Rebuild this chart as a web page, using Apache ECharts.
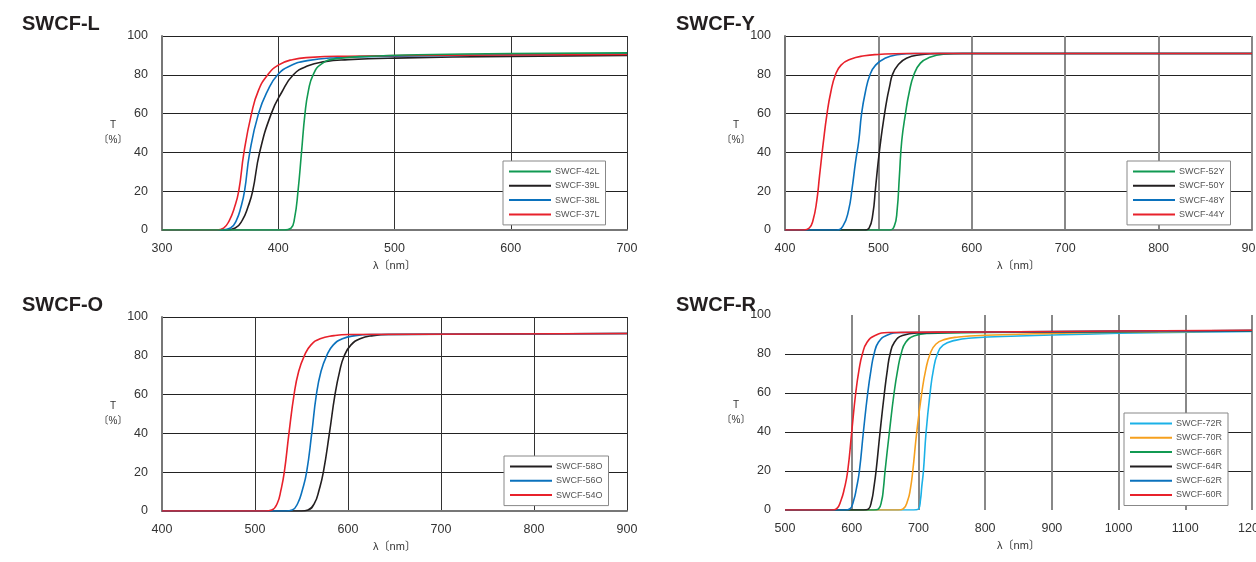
<!DOCTYPE html>
<html>
<head>
<meta charset="utf-8">
<script src="https://cdn.jsdelivr.net/npm/echarts@6/dist/echarts.min.js"></script>
<style>
  html, body { margin: 0; padding: 0; background: #fff; }
  #main { width: 1256px; height: 562px; }
</style>
</head>
<body>
<div id="main"></div>
<script type="text/javascript">
    // 各フィルターの分光透過率 (λ nm, T %)
    var l42x = [300, 405, 411, 414, 417, 420, 423, 426, 430, 437, 450, 480, 520, 600, 700];
    var l42y = [0, 0, 1, 6, 20, 40, 60, 72, 80, 85.5, 88.3, 89.6, 90.3, 91, 91.3];
    var l39x = [300, 355, 363, 369, 374, 378, 384, 394, 403, 413, 425, 440, 460, 500, 600, 700];
    var l39y = [0, 0, 1, 5, 12, 20, 40, 60, 71, 80, 84.5, 86.8, 87.8, 88.6, 89.5, 90];
    var l38x = [300, 352, 359, 364, 368, 371, 375.5, 383, 391, 399.5, 410, 425, 450, 500, 600, 700];
    var l38y = [0, 0, 1, 5, 12, 20, 40, 60, 72, 80, 84.5, 87.3, 88.8, 89.6, 90.3, 90.8];
    var l37x = [300, 347, 353, 358, 362, 366, 370.5, 377, 383, 391, 400, 412, 428, 460, 550, 700];
    var l37y = [0, 0, 1, 5, 11, 20, 40, 60, 72, 80, 85, 87.8, 89, 89.6, 90.1, 90.5];

    var y52x = [400, 512, 517, 520, 522.5, 525, 529, 533, 538, 545, 555, 570, 590, 900];
    var y52y = [0, 0, 2, 10, 28, 46, 60, 71, 80, 86, 89, 90.6, 91, 91];
    var y50x = [400, 485, 490, 494, 497, 500, 503, 506, 509, 512, 515, 521, 530, 545, 565, 900];
    var y50y = [0, 0, 1, 8, 22, 36, 48, 58, 67, 74, 80, 85, 88.5, 90.3, 91, 91];
    var y48x = [400, 455, 462, 468, 472, 475.5, 479, 482, 486, 491, 497, 507, 520, 540, 900];
    var y48y = [0, 0, 2, 10, 22, 35, 46, 60, 71, 80, 85, 88.5, 90.3, 91, 91];
    var y44x = [400, 420, 426, 430, 434, 437, 441, 445, 449, 454, 460, 470, 485, 500, 530, 900];
    var y44y = [0, 0, 1, 5, 15, 28, 45, 60, 71, 80, 85, 88, 89.8, 90.5, 91, 91];

    var o58x = [400, 550, 557, 564, 569, 573.5, 580, 586, 591, 596, 603, 613, 627, 645, 900];
    var o58y = [0, 0, 0.5, 4, 11, 20, 40, 60, 72, 80, 85.5, 88.8, 90.4, 91, 91.5];
    var o56x = [400, 533, 540, 546, 551, 555.5, 561, 566, 571, 577, 584, 594, 608, 625, 900];
    var o56y = [0, 0, 0.5, 4, 11, 20, 40, 60, 72, 80, 85.5, 88.8, 90.4, 91, 91.5];
    var o54x = [400, 511, 518, 524, 528, 531.5, 536.5, 542, 547, 553, 560, 570, 585, 600, 900];
    var o54y = [0, 0, 0.5, 4, 11, 20, 40, 60, 72, 80, 85.5, 88.8, 90.4, 91, 91.5];

    var r72x = [500, 693, 700, 703, 705, 707.5, 711.5, 717.5, 722.5, 728.5, 737, 755, 780, 850, 950, 1050, 1200];
    var r72y = [0, 0, 0.5, 5, 12, 20, 40, 60, 72, 80, 84.5, 87, 88.2, 89.2, 90.2, 90.9, 91.6];
    var r70x = [500, 670, 677, 684, 688, 691.5, 697.5, 705, 711, 717.5, 726, 740, 760, 800, 900, 1000, 1200];
    var r70y = [0, 0, 0.5, 5, 11, 20, 40, 60, 72, 80, 85, 87.5, 88.7, 89.6, 90.6, 91.2, 91.8];
    var r66x = [500, 633, 640, 645, 647.5, 650, 656.5, 663.5, 669, 674, 681, 694, 715, 800, 1000, 1200];
    var r66y = [0, 0, 0.5, 5, 11, 20, 40, 60, 72, 80, 86, 89.3, 90.6, 91, 91.5, 91.8];
    var r64x = [500, 618, 625, 630, 633, 636.5, 642.5, 649, 653.5, 657.5, 664, 676, 700, 800, 1000, 1200];
    var r64y = [0, 0, 0.5, 5, 11, 20, 40, 60, 72, 80, 86, 89.5, 90.8, 91.2, 91.6, 92];
    var r62x = [500, 590, 597, 603, 607, 611.5, 617.5, 624, 629, 633.5, 640, 652, 675, 800, 1000, 1200];
    var r62y = [0, 0, 0.5, 5, 11, 20, 40, 60, 72, 80, 86, 89.5, 91, 91.3, 91.6, 92];
    var r60x = [500, 570, 577, 584, 589, 594, 600, 606, 611, 616, 623, 635, 655, 800, 1000, 1200];
    var r60y = [0, 0, 0.5, 5, 11, 20, 40, 60, 72, 80, 86, 89.5, 91, 91.3, 91.8, 92.2];

    var GREEN = '#119a52', BLACK = '#231f20', BLUE = '#0b72bd', RED = '#e8212b',
        ORANGE = '#f6a01e', CYAN = '#1bb1e7';
    var FONT = 'Liberation Sans, Arial, Noto Sans CJK JP, sans-serif';

    function zip(xs, ys) {
        return xs.map(function (x, i) { return [x, ys[i]]; });
    }

    function line(name, xs, ys, color, idx) {
        return {
            name: name,
            type: 'line',
            xAxisIndex: idx,
            yAxisIndex: idx,
            data: zip(xs, ys),
            smooth: 0.5,
            showSymbol: false,
            symbol: 'none',
            lineStyle: { color: color, width: 1.6 },
            itemStyle: { color: color },
            emphasis: { disabled: true }
        };
    }

    // 4つのグラフ領域
    var grids = [
        { left: 162, top: 36, width: 465, height: 194, outerBoundsMode: 'none' },
        { left: 785, top: 36, width: 467, height: 194, outerBoundsMode: 'none' },
        { left: 162, top: 317, width: 465, height: 194, outerBoundsMode: 'none' },
        { left: 785, top: 315, width: 467, height: 195, outerBoundsMode: 'none' }
    ];
    var xRange = [[300, 700], [400, 900], [400, 900], [500, 1200]];
    var vLineColor = ['#333', '#888', '#333', '#888'];
    var vLineWidth = [1, 2, 1, 2];

    var xAxis = xRange.map(function (r, i) {
        return {
            type: 'value',
            gridIndex: i,
            min: r[0],
            max: r[1],
            interval: 100,
            name: 'λ〔nm〕',
            nameLocation: 'middle',
            nameGap: 30,
            nameTextStyle: { fontSize: 11, color: '#333', fontFamily: FONT },
            axisLine: { show: i !== 3, lineStyle: { color: '#777', width: 2 } },
            axisTick: { show: false },
            axisLabel: {
                fontSize: 12.5, color: '#333', margin: 12, fontFamily: FONT,
                formatter: function (v) { return String(v); }
            },
            splitLine: {
                show: true,
                showMinLine: i !== 3,
                lineStyle: { color: vLineColor[i], width: vLineWidth[i] }
            }
        };
    });

    var yAxis = xRange.map(function (r, i) {
        return {
            type: 'value',
            gridIndex: i,
            min: 0,
            max: 100,
            interval: 20,
            name: 'T\n〔%〕',
            nameLocation: 'middle',
            nameRotate: 0,
            nameGap: 49,
            nameMoveOverlap: false,
            nameTextStyle: { fontSize: 10, color: '#333', lineHeight: 15, align: 'center', fontFamily: FONT },
            axisLine: { show: i !== 3, lineStyle: { color: '#777', width: 2 } },
            axisTick: { show: false },
            axisLabel: { fontSize: 12.5, color: '#333', margin: 14, fontFamily: FONT },
            splitLine: {
                show: true,
                showMinLine: false,
                showMaxLine: i !== 3,
                lineStyle: { color: '#222', width: 1 }
            }
        };
    });

    function legend(names, left, top) {
        return {
            data: names,
            orient: 'vertical',
            left: left,
            top: top,
            padding: [5, 6, 5, 6],
            itemGap: 3.3,
            itemWidth: 42,
            itemHeight: 2,
            icon: 'rect',
            backgroundColor: '#fff',
            borderColor: '#888',
            borderWidth: 1,
            borderRadius: 0,
            selectedMode: false,
            textStyle: { fontSize: 9, color: '#555', padding: [0, 0, 0, -1], lineHeight: 11, fontFamily: FONT }
        };
    }

    var titleStyle = { fontSize: 20, fontWeight: 'bold', color: '#231f20', fontFamily: FONT };

    var option = {
        backgroundColor: '#fff',
        animation: false,
        title: [
            { text: 'SWCF-L', left: 22, top: 14, padding: 0, textStyle: titleStyle },
            { text: 'SWCF-Y', left: 676, top: 14, padding: 0, textStyle: titleStyle },
            { text: 'SWCF-O', left: 22, top: 295, padding: 0, textStyle: titleStyle },
            { text: 'SWCF-R', left: 676, top: 295, padding: 0, textStyle: titleStyle }
        ],
        legend: [
            legend(['SWCF-42L', 'SWCF-39L', 'SWCF-38L', 'SWCF-37L'], 503, 161),
            legend(['SWCF-52Y', 'SWCF-50Y', 'SWCF-48Y', 'SWCF-44Y'], 1127, 161),
            legend(['SWCF-58O', 'SWCF-56O', 'SWCF-54O'], 504, 456),
            legend(['SWCF-72R', 'SWCF-70R', 'SWCF-66R', 'SWCF-64R', 'SWCF-62R', 'SWCF-60R'], 1124, 413)
        ],
        grid: grids,
        xAxis: xAxis,
        yAxis: yAxis,
        series: [
            line('SWCF-39L', l39x, l39y, BLACK, 0),
            line('SWCF-38L', l38x, l38y, BLUE, 0),
            line('SWCF-37L', l37x, l37y, RED, 0),
            line('SWCF-42L', l42x, l42y, GREEN, 0),

            line('SWCF-52Y', y52x, y52y, GREEN, 1),
            line('SWCF-50Y', y50x, y50y, BLACK, 1),
            line('SWCF-48Y', y48x, y48y, BLUE, 1),
            line('SWCF-44Y', y44x, y44y, RED, 1),

            line('SWCF-58O', o58x, o58y, BLACK, 2),
            line('SWCF-56O', o56x, o56y, BLUE, 2),
            line('SWCF-54O', o54x, o54y, RED, 2),

            line('SWCF-72R', r72x, r72y, CYAN, 3),
            line('SWCF-70R', r70x, r70y, ORANGE, 3),
            line('SWCF-66R', r66x, r66y, GREEN, 3),
            line('SWCF-64R', r64x, r64y, BLACK, 3),
            line('SWCF-62R', r62x, r62y, BLUE, 3),
            line('SWCF-60R', r60x, r60y, RED, 3)
        ]
    };

    var myChart = echarts.init(document.getElementById('main'));
    myChart.setOption(option);
</script>
</body>
</html>
